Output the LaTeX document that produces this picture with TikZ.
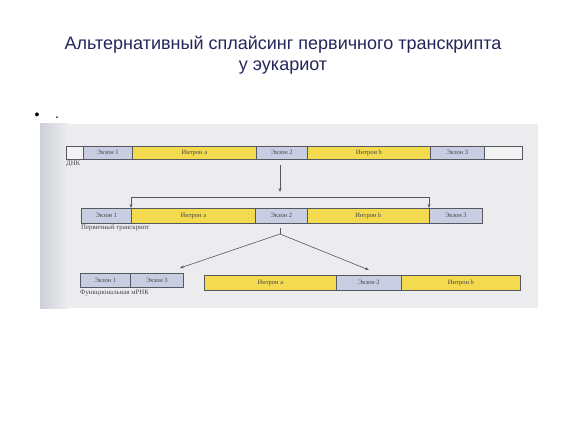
\documentclass[tikz,border=0pt]{standalone}
\usepackage{fontspec}
\setmainfont{Liberation Serif}
\newfontfamily\titlefont{Liberation Sans}
\usetikzlibrary{arrows.meta}
\definecolor{titlecol}{HTML}{25255A}
\definecolor{photobg}{HTML}{ECECEF}
\definecolor{photoshade}{HTML}{CDD1D8}
\definecolor{intcol}{HTML}{F3DA4E}
\definecolor{exocol}{HTML}{C9CDE2}
\definecolor{blankcol}{HTML}{F2F2F3}
\definecolor{edgecol}{HTML}{55585E}
\definecolor{txtcol}{HTML}{45454F}
\begin{document}
\begin{tikzpicture}[x=1pt,y=-1pt,
  seg/.style={draw=edgecol,line width=0.8pt,inner sep=0pt,anchor=north west,
    text height=4.6pt,text depth=1.4pt,
    font=\fontsize{6.5}{7}\selectfont,text=txtcol},
  intron/.style={seg,fill=intcol},
  exon/.style={seg,fill=exocol},
  blank/.style={seg,fill=blankcol},
  lbl/.style={anchor=north west,inner sep=0pt,font=\fontsize{6.8}{8}\selectfont,text=txtcol},
  conn/.style={draw=edgecol,line width=0.6pt},
  arr/.style={conn,-{Stealth[length=4pt,width=3pt]}}]
\useasboundingbox (0,0) rectangle (567,425);
\fill[white] (0,0) rectangle (567,425);
% title
\node[font=\titlefont\fontsize{18}{21}\selectfont,text=titlecol,align=center] (title) at (283,55)
  {Альтернативный сплайсинг первичного транскрипта\\у эукариот};
\node[font=\titlefont\fontsize{14}{16}\selectfont] (bul) at (37,116) {•};
\node[font=\titlefont\fontsize{14}{16}\selectfont] (dot) at (57,118) {.};
% photo background
\fill[photobg] (40,124) rectangle (538,308);
\shade[left color=photoshade,right color=photobg] (40,124) rectangle (68,308);
% row 1: DNA
\node[blank,minimum width=17pt,minimum height=13pt] (b0) at (66,146) {};
\node[exon,minimum width=49pt,minimum height=13pt] (e11) at (83,146) {Экзон 1};
\node[intron,minimum width=124pt,minimum height=13pt] (ia1) at (132,146) {Интрон а};
\node[exon,minimum width=51pt,minimum height=13pt] (e21) at (256,146) {Экзон 2};
\node[intron,minimum width=123pt,minimum height=13pt] (ib1) at (307,146) {Интрон b};
\node[exon,minimum width=54pt,minimum height=13pt] (e31) at (430,146) {Экзон 3};
\node[blank,minimum width=38pt,minimum height=13pt] (b1) at (484,146) {};
\node[lbl] (dnk) at (66,161) {ДНК};
% row 2: primary transcript
\node[exon,minimum width=50pt,minimum height=15pt] (e12) at (81,208) {Экзон 1};
\node[intron,minimum width=124pt,minimum height=15pt] (ia2) at (131,208) {Интрон а};
\node[exon,minimum width=52pt,minimum height=15pt] (e22) at (255,208) {Экзон 2};
\node[intron,minimum width=122pt,minimum height=15pt] (ib2) at (307,208) {Интрон b};
\node[exon,minimum width=53pt,minimum height=15pt] (e32) at (429,208) {Экзон 3};
\node[lbl] (pt) at (81,225) {Первичный транскрипт};
% row 3: functional mRNA and removed pieces
\node[exon,minimum width=50pt,minimum height=14pt] (e13) at (80,273) {Экзон 1};
\node[exon,minimum width=53pt,minimum height=14pt] (e33) at (130,273) {Экзон 3};
\node[lbl] (mrna) at (80,290) {Функциональная мРНК};
\node[intron,minimum width=132pt,minimum height=15pt] (ia3) at (204,275) {Интрон а};
\node[exon,minimum width=65pt,minimum height=15pt] (e23) at (336,275) {Экзон 2};
\node[intron,minimum width=119pt,minimum height=15pt] (ib3) at (401,275) {Интрон b};
% connectors
\coordinate (a1) at (280,165);
\coordinate (brk) at (280,197);
\draw[arr,shorten >=5pt] (a1) -- (brk);
\draw[arr] (brk) -| (ia2.north west);
\draw[arr] (brk) -| (e32.north west);
\coordinate (s0) at (280,228);
\coordinate (sp) at (280,234);
\coordinate (t1) at (180,268);
\coordinate (t2) at (369,270);
\draw[conn] (s0) -- (sp);
\draw[arr] (sp) -- (t1);
\draw[arr] (sp) -- (t2);
\end{tikzpicture}
\end{document}
